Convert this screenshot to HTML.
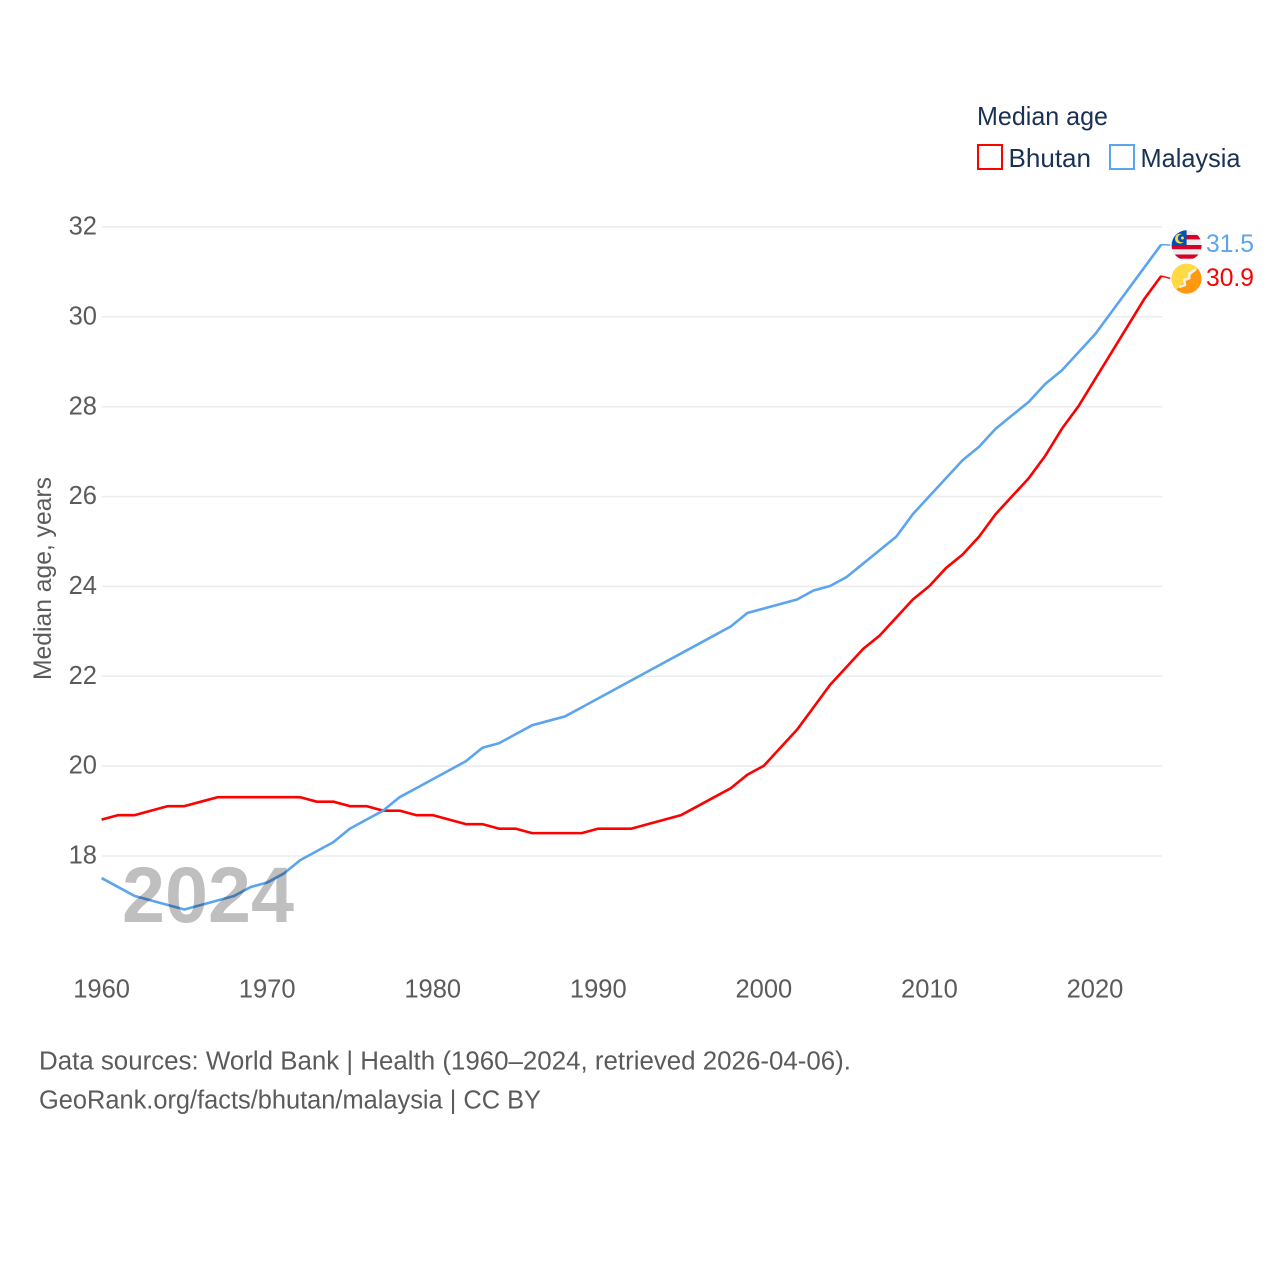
<!DOCTYPE html>
<html>
<head>
<meta charset="utf-8">
<style>
html,body{margin:0;padding:0;background:#fff;}
svg{display:block;font-family:"Liberation Sans",sans-serif;}
</style>
</head>
<body>
<svg id="chart" xmlns="http://www.w3.org/2000/svg" width="1280" height="1280" viewBox="0 0 1280 1280">
  <rect width="1280" height="1280" fill="#fff"/>
  <g id="grid"></g>
  <g id="yticks"></g>
  <g id="xticks"></g>
  <text transform="translate(51,680) rotate(-90)" font-size="25" fill="#5b5b5b" textLength="203" lengthAdjust="spacingAndGlyphs">Median age, years</text>
  <g id="series"></g>
  <text x="122" y="922" font-size="79" font-weight="700" fill="#000" fill-opacity="0.25" textLength="172" lengthAdjust="spacingAndGlyphs">2024</text>

  <defs>
    <clipPath id="flag-my-clip"><circle cx="1186.6" cy="245.3" r="15"/></clipPath>
    <clipPath id="flag-bt-clip"><circle cx="1186.6" cy="278.7" r="15"/></clipPath>
  </defs>
  <g clip-path="url(#flag-my-clip)">
    <rect x="1171" y="230" width="31" height="31" fill="#eee"/>
    <rect x="1171" y="235" width="31" height="4.4" fill="#d80027"/>
    <rect x="1171" y="245" width="31" height="4.2" fill="#d80027"/>
    <rect x="1171" y="254.5" width="31" height="4.2" fill="#d80027"/>
    <rect x="1171" y="230" width="15.6" height="15.3" fill="#0052b4"/>
    <circle cx="1180" cy="238.6" r="5" fill="#ffda44"/>
    <circle cx="1182" cy="238.2" r="4.1" fill="#0052b4"/>
    <circle cx="1182.4" cy="238" r="1.5" fill="#ffda44"/>
  </g>
  <g clip-path="url(#flag-bt-clip)">
    <rect x="1171" y="263" width="32" height="32" fill="#ff9811"/>
    <path d="M1171 295V263H1203Z" fill="#ffda44"/>
    <path d="M1180 286.7L1185 285L1184.3 280L1189.3 278.3L1189.3 273.3L1195 270" fill="none" stroke="#f0f0f0" stroke-width="2.6" stroke-linejoin="round" stroke-linecap="round"/>
  </g>
  <text id="label-my" x="1206" y="252" font-size="25" fill="#5ba4ee" textLength="48" lengthAdjust="spacingAndGlyphs">31.5</text>
  <text id="label-bt" x="1206" y="286" font-size="25" fill="#ff0000" textLength="48" lengthAdjust="spacingAndGlyphs">30.9</text>

  <text x="977" y="125" font-size="26" fill="#1a3154" textLength="131" lengthAdjust="spacingAndGlyphs">Median age</text>
  <rect x="978" y="145" width="24" height="24" fill="none" stroke="#ff0000" stroke-width="2"/>
  <text x="1008.5" y="167" font-size="26" fill="#1a3154" textLength="82.5" lengthAdjust="spacingAndGlyphs">Bhutan</text>
  <rect x="1110" y="145" width="24" height="24" fill="none" stroke="#5ba4ee" stroke-width="2"/>
  <text x="1140.5" y="167" font-size="26" fill="#1a3154" textLength="100" lengthAdjust="spacingAndGlyphs">Malaysia</text>

  <text x="39" y="1069.5" font-size="25.5" fill="#5b5b5b" textLength="812" lengthAdjust="spacingAndGlyphs">Data sources: World Bank | Health (1960–2024, retrieved 2026-04-06).</text>
  <text x="39" y="1108.5" font-size="25.5" fill="#5b5b5b" textLength="502" lengthAdjust="spacingAndGlyphs">GeoRank.org/facts/bhutan/malaysia | CC BY</text>
</svg>
<script>
const years = [];
for (let yr = 1960; yr <= 2024; yr++) years.push(yr);
const bhutanValues = [18.8,18.9,18.9,19.0,19.1,19.1,19.2,19.3,19.3,19.3,19.3,19.3,19.3,19.2,19.2,19.1,19.1,19.0,19.0,18.9,18.9,18.8,18.7,18.7,18.6,18.6,18.5,18.5,18.5,18.5,18.6,18.6,18.6,18.7,18.8,18.9,19.1,19.3,19.5,19.8,20.0,20.4,20.8,21.3,21.8,22.2,22.6,22.9,23.3,23.7,24.0,24.4,24.7,25.1,25.6,26.0,26.4,26.9,27.5,28.0,28.6,29.2,29.8,30.4,30.9];
const malaysiaValues = [17.5,17.3,17.1,17.0,16.9,16.8,16.9,17.0,17.1,17.3,17.4,17.6,17.9,18.1,18.3,18.6,18.8,19.0,19.3,19.5,19.7,19.9,20.1,20.4,20.5,20.7,20.9,21.0,21.1,21.3,21.5,21.7,21.9,22.1,22.3,22.5,22.7,22.9,23.1,23.4,23.5,23.6,23.7,23.9,24.0,24.2,24.5,24.8,25.1,25.6,26.0,26.4,26.8,27.1,27.5,27.8,28.1,28.5,28.8,29.2,29.6,30.1,30.6,31.1,31.6];
const yTickValues = [18,20,22,24,26,28,30,32];
const xTickValues = [1960,1970,1980,1990,2000,2010,2020];

const NS = 'http://www.w3.org/2000/svg';
function xScale(year) { return 101.6 + (year - 1960) * (1161.2 - 101.6) / 64; }
function yScale(val) { return 855.6 - (val - 18) * (855.6 - 226.6) / 14; }
function gridX1() { return 102; }
function gridX2() { return 1162; }

const gridG = document.getElementById('grid');
const yG = document.getElementById('yticks');
const xG = document.getElementById('xticks');
const seriesG = document.getElementById('series');

yTickValues.forEach(function (v) {
  const ln = document.createElementNS(NS, 'line');
  
  
  ln.setAttribute('x1', gridX1());
  ln.setAttribute('x2', gridX2());
  ln.setAttribute('y1', yScale(v) + 0.4);
  ln.setAttribute('y2', yScale(v) + 0.4);
  ln.setAttribute('stroke', '#ececec');
  ln.setAttribute('stroke-width', 1.5);
  gridG.appendChild(ln);
  const t = document.createElementNS(NS, 'text');
  
  
  t.setAttribute('x', 97);
  t.setAttribute('y', yScale(v) + 8);
  t.setAttribute('text-anchor', 'end');
  t.setAttribute('font-size', 25.5);
  t.setAttribute('fill', '#5b5b5b');
  t.textContent = v;
  yG.appendChild(t);
});

xTickValues.forEach(function (v) {
  const t = document.createElementNS(NS, 'text');
  
  
  t.setAttribute('x', xScale(v));
  t.setAttribute('y', 997.5);
  t.setAttribute('text-anchor', 'middle');
  t.setAttribute('font-size', 25.5);
  t.setAttribute('fill', '#5b5b5b');
  t.textContent = v;
  xG.appendChild(t);
});

function drawSeries(values, color, name, flagY) {
  const pts = values.map(function (v, i) { return xScale(years[i]) + ',' + yScale(v); });
  const last = values[values.length - 1];
  const lastX = xScale(years[years.length - 1]);
  const pl = document.createElementNS(NS, 'polyline');
  
  
  pl.setAttribute('points', pts.join(' '));
  pl.setAttribute('fill', 'none');
  pl.setAttribute('stroke', color);
  pl.setAttribute('stroke-width', 2.6);
  pl.setAttribute('stroke-linejoin', 'round');
  seriesG.appendChild(pl);
  const c = document.createElementNS(NS, 'line');
  
  
  c.setAttribute('x1', lastX);
  c.setAttribute('y1', yScale(last));
  c.setAttribute('x2', lastX + 9);
  c.setAttribute('y2', flagY);
  c.setAttribute('stroke', color);
  c.setAttribute('stroke-width', 1.5);
  seriesG.appendChild(c);
}
drawSeries(bhutanValues, '#ff0000', 'bhutan', 278.3);
drawSeries(malaysiaValues, '#5ba4ee', 'malaysia', 245);
</script>
</body>
</html>
